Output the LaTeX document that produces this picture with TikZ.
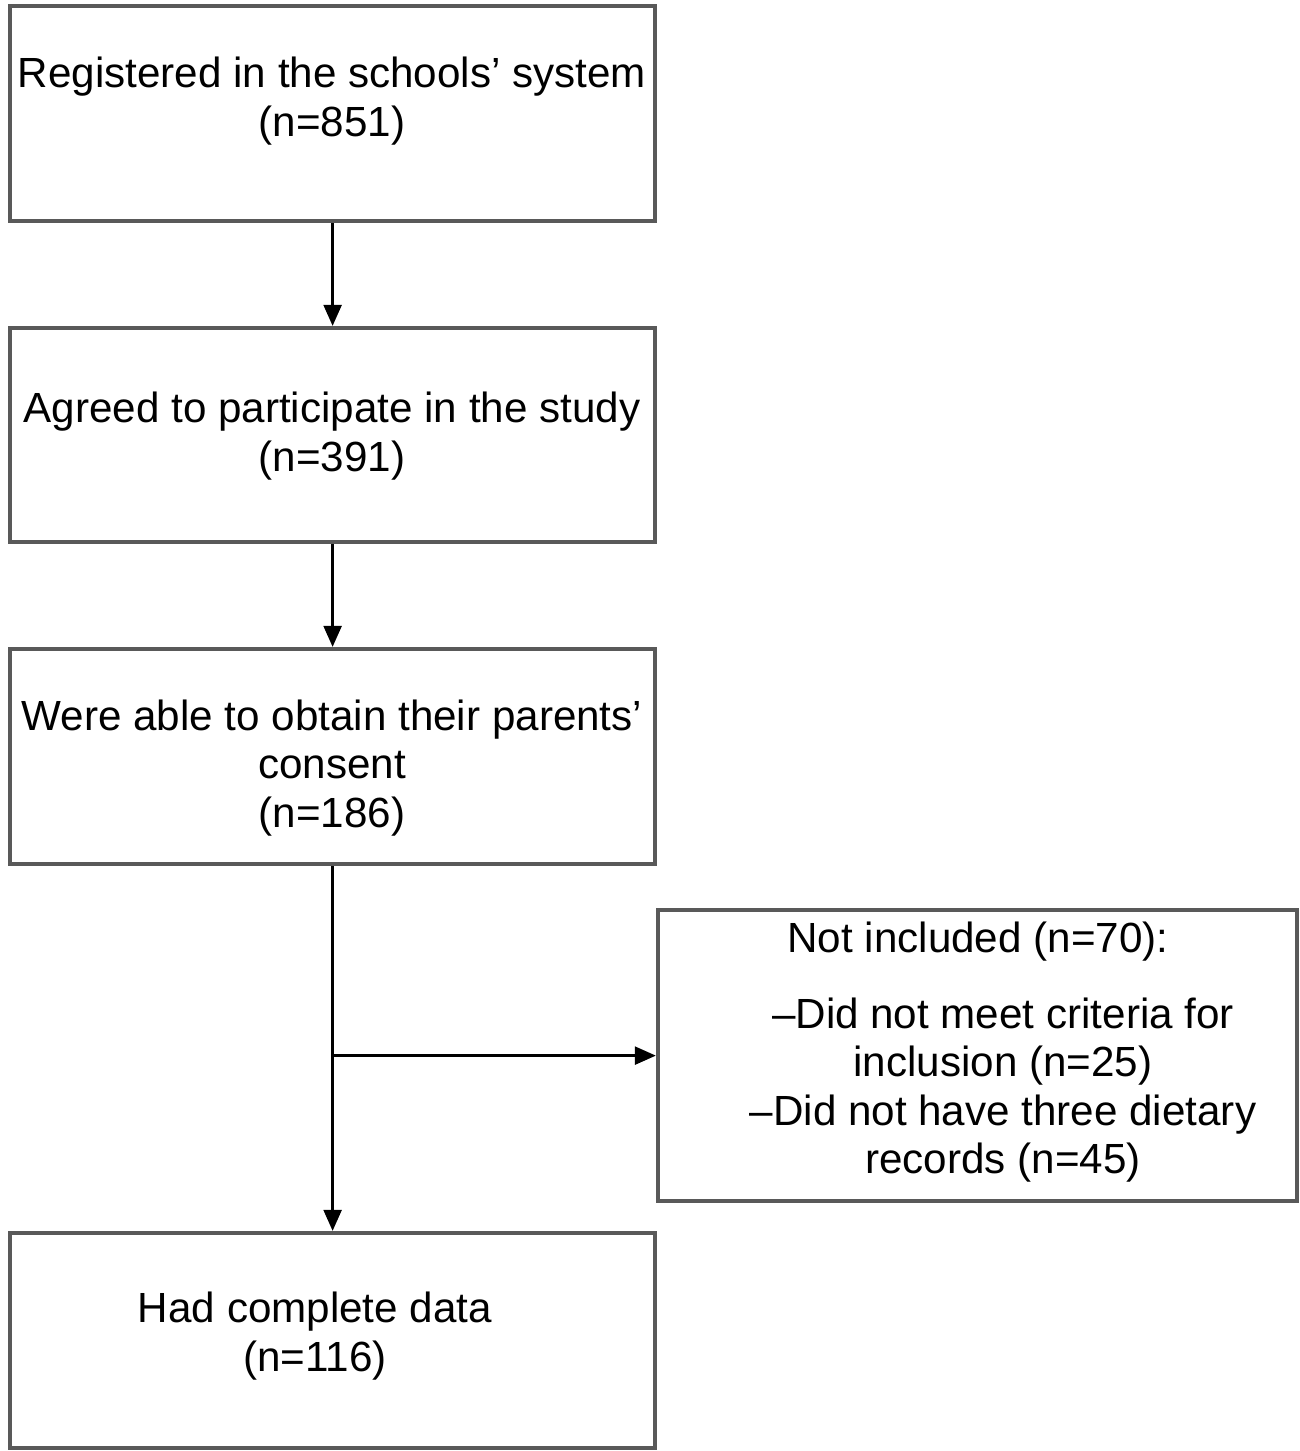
\documentclass[tikz,border=0pt]{standalone}
\usepackage{fontspec}
\setmainfont{Liberation Sans}
\usetikzlibrary{positioning, arrows.meta}
\tikzset{box/.style={draw=black!65, line width=1.2pt, inner sep=0pt},
txt/.style={align=center, font=\fontsize{12}{13.7}\selectfont, inner sep=0pt},
flow/.style={draw, line width=1pt, -{Triangle[length=6pt,width=5pt]}}}
\begin{document}
\begin{tikzpicture}[x=1cm,y=1cm]
    \useasboundingbox (0,0) rectangle (13,-14.51);

    \node[box, minimum width=6.45cm, minimum height=2.15cm, anchor=north west] (reg) at (0.08,-0.04) {};
    \node[box, minimum width=6.45cm, minimum height=2.14cm, anchor=north west] (agr) at (0.08,-3.26) {};
    \node[box, minimum width=6.45cm, minimum height=2.15cm, anchor=north west] (con) at (0.08,-6.47) {};
    \node[box, minimum width=6.39cm, minimum height=2.91cm, anchor=north west] (exc) at (6.56,-9.08) {};
    \node[box, minimum width=6.45cm, minimum height=2.15cm, anchor=north west] (fin) at (0.08,-12.31) {};

    \node[txt] (treg) at (3.32,-1.01) {Registered in the schools' system\\(n=851)};
    \node[txt] (tagr) at (3.32,-4.36) {Agreed to participate in the study\\(n=391)};
    \node[txt] (tcon) at (3.32,-7.68) {Were able to obtain their parents'\\consent\\(n=186)};
    \node[txt] (texh) at (9.78,-9.42) {Not included (n=70):};
    \node[txt] (texc) at (10.03,-10.9) {--Did not meet criteria for\\inclusion (n=25)\\--Did not have three dietary\\records (n=45)};
    \node[txt] (tfin) at (3.15,-13.36) {Had complete data\\(n=116)};

    \coordinate (split) at (con.south |- exc.west);

    \draw[flow] (reg) -- (agr);
    \draw[flow] (agr) -- (con);
    \draw[flow] (con) -- (fin);
    \draw[flow] (split) -- (exc.west);
\end{tikzpicture}
\end{document}
